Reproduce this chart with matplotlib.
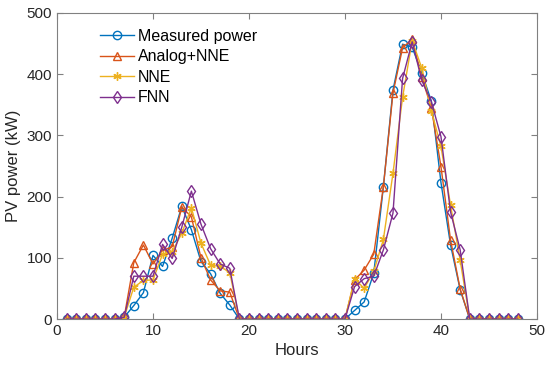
import matplotlib.pyplot as plt
import numpy as np

plt.rcParams['font.family'] = ['Liberation Sans', 'DejaVu Sans']

# Hours 1..48
hours = list(range(1, 49))

measured = [0, 0, 0, 0, 0, 0, 3, 22, 43, 104, 86, 132, 184, 146, 94, 74, 42, 23,
            0, 0, 0, 0, 0, 0, 0, 0, 0, 0, 0, 0,
            14, 28, 75, 216, 374, 449, 444, 402, 356, 223, 121, 48,
            0, 0, 0, 0, 0, 0]
analog_nne = [0, 0, 0, 0, 0, 0, 3, 92, 121, 90, 112, 118, 183, 167, 100, 64, 46, 44,
              0, 0, 0, 0, 0, 0, 0, 0, 0, 0, 0, 0,
              64, 80, 106, 216, 369, 443, 457, 395, 345, 249, 129, 49,
              0, 0, 0, 0, 0, 0]
nne = [0, 0, 0, 0, 0, 0, 3, 52, 63, 64, 106, 110, 140, 182, 124, 88, 86, 76,
       0, 0, 0, 0, 0, 0, 0, 0, 0, 0, 0, 0,
       66, 50, 78, 130, 238, 362, 455, 410, 340, 282, 186, 96,
       0, 0, 0, 0, 0, 0]
fnn = [0, 0, 0, 0, 0, 0, 3, 70, 70, 70, 122, 99, 150, 209, 155, 115, 90, 83,
       0, 0, 0, 0, 0, 0, 0, 0, 0, 0, 0, 0,
       53, 66, 70, 113, 173, 393, 453, 390, 355, 298, 175, 113,
       0, 0, 0, 0, 0, 0]

fig = plt.figure(figsize=(5.5, 3.71), dpi=100)
ax = fig.add_axes([0.1036, 0.140, 0.8727, 0.825])

ax.plot(hours, measured, color='#0072BD', marker='o', ms=6, mfc='none', lw=1, label='Measured power')
ax.plot(hours, analog_nne, color='#D95319', marker='^', ms=6, mfc='none', lw=1, label='Analog+NNE')
ax.plot(hours, nne, color='#EDB120', marker=(6, 2, 0), ms=6, lw=1, label='NNE')
ax.plot(hours, fnn, color='#7E2F8E', marker='d', ms=6, mfc='none', lw=1, label='FNN')

ax.set_xlim(0, 50)
ax.set_ylim(0, 500)
ax.set_xticks([0, 10, 20, 30, 40, 50])
ax.set_yticks([0, 100, 200, 300, 400, 500])
ax.tick_params(direction='in', top=True, right=True, labelsize=11, length=4)
for s in ax.spines.values():
    s.set_color('#808080')
    s.set_linewidth(0.8)
ax.tick_params(colors='#808080', labelcolor='#262626')
ax.set_xlabel('Hours', fontsize=12, color='#262626')
ax.set_ylabel('PV power (kW)', fontsize=12, color='#262626')

ax.legend(loc='upper left', bbox_to_anchor=(0.07, 0.98), frameon=False, fontsize=11.5,
          handlelength=2.1, handletextpad=0.25, labelspacing=0.35, borderaxespad=0.2)

fig.savefig('out.png', dpi=100)
